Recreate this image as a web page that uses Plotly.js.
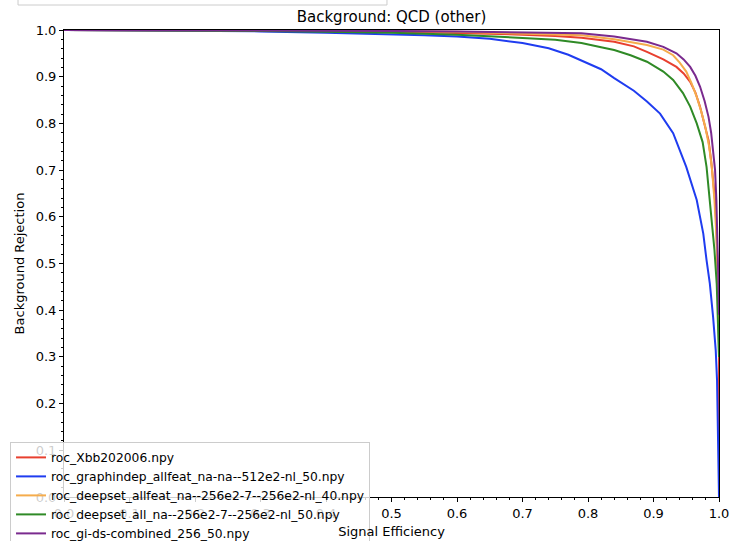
<!DOCTYPE html>
<html>
<head>
<meta charset="utf-8">
<script src="https://cdn.plot.ly/plotly-3.0.1.min.js"></script>
<style>html,body{margin:0;padding:0;background:#fff;}#chart{width:730px;height:541px;}</style>
</head>
<body>
<div id="chart"></div>
<script>
// Series names (legend order)
const names = [
  "roc_Xbb202006.npy",
  "roc_graphindep_allfeat_na-na--512e2-nl_50.npy",
  "roc_deepset_allfeat_na--256e2-7--256e2-nl_40.npy",
  "roc_deepset_all_na--256e2-7--256e2-nl_50.npy",
  "roc_gi-ds-combined_256_50.npy"
];

// Xbb (red)
const xbbX = [0, 0.1, 0.2, 0.3, 0.4, 0.5, 0.6, 0.7, 0.75, 0.79, 0.84, 0.87, 0.89, 0.915, 0.935, 0.946, 0.956, 0.964, 0.971, 0.978, 0.984, 0.988, 0.991, 0.994, 0.996, 0.998, 0.9995, 1.0, 1.0];
const xbbY = [1.0, 0.9998, 0.9995, 0.999, 0.998, 0.997, 0.994, 0.990, 0.987, 0.9835, 0.975, 0.965, 0.953, 0.937, 0.921, 0.907, 0.889, 0.866, 0.836, 0.80, 0.764, 0.72, 0.678, 0.636, 0.58, 0.50, 0.40, 0.30, 0.0];

// graphindep (blue)
const giX = [0, 0.1, 0.2, 0.3, 0.4, 0.5, 0.55, 0.6, 0.65, 0.7, 0.74, 0.77, 0.79, 0.82, 0.84, 0.87, 0.89, 0.91, 0.93, 0.95, 0.966, 0.976, 0.981, 0.986, 0.991, 0.995, 0.997, 0.9985, 0.9995, 1.0];
const giY = [1.0, 0.9995, 0.999, 0.997, 0.994, 0.991, 0.989, 0.986, 0.981, 0.972, 0.961, 0.947, 0.935, 0.916, 0.897, 0.870, 0.847, 0.821, 0.779, 0.707, 0.636, 0.564, 0.507, 0.457, 0.385, 0.314, 0.25, 0.15, 0.05, 0.0];

// deepset allfeat (orange)
const dsfX = [0, 0.1, 0.2, 0.3, 0.4, 0.5, 0.6, 0.7, 0.79, 0.84, 0.89, 0.915, 0.93, 0.94, 0.95, 0.958, 0.966, 0.973, 0.979, 0.985, 0.989, 0.993, 0.996, 0.998, 0.9995, 1.0];
const dsfY = [1.0, 0.9999, 0.9997, 0.9993, 0.9987, 0.998, 0.996, 0.993, 0.989, 0.980, 0.968, 0.958, 0.946, 0.930, 0.911, 0.886, 0.857, 0.825, 0.793, 0.750, 0.707, 0.636, 0.56, 0.48, 0.40, 0.33];

// deepset all na (green)
const dsaX = [0, 0.1, 0.2, 0.3, 0.4, 0.5, 0.6, 0.65, 0.7, 0.75, 0.79, 0.82, 0.84, 0.865, 0.89, 0.915, 0.93, 0.945, 0.956, 0.966, 0.975, 0.981, 0.986, 0.99, 0.993, 0.9965, 0.999, 1.0];
const dsaY = [1.0, 0.9997, 0.9993, 0.998, 0.996, 0.994, 0.990, 0.987, 0.983, 0.979, 0.972, 0.963, 0.957, 0.946, 0.932, 0.911, 0.893, 0.865, 0.836, 0.800, 0.760, 0.707, 0.636, 0.580, 0.530, 0.457, 0.33, 0.30];

// gi-ds combined (purple)
const cmbX = [0, 0.1, 0.2, 0.3, 0.4, 0.5, 0.6, 0.7, 0.79, 0.84, 0.89, 0.915, 0.935, 0.946, 0.956, 0.964, 0.971, 0.978, 0.984, 0.988, 0.991, 0.994, 0.996, 0.998, 0.9993, 1.0];
const cmbY = [1.0, 0.9999, 0.9998, 0.9995, 0.999, 0.998, 0.997, 0.995, 0.993, 0.986, 0.975, 0.964, 0.950, 0.937, 0.921, 0.902, 0.879, 0.848, 0.814, 0.780, 0.743, 0.70, 0.636, 0.55, 0.45, 0.39];

const colors = ["#e8402f", "#1f3cf0", "#f5ac4c", "#2f8a26", "#7a2a8e"];
const xs = [xbbX, giX, dsfX, dsaX, cmbX];
const ys = [xbbY, giY, dsfY, dsaY, cmbY];

const traces = names.map((n, i) => ({
  type: "scatter", mode: "lines", name: n,
  x: xs[i], y: ys[i],
  line: {color: colors[i], width: 2}
}));

const font = "DejaVu Sans, sans-serif";
const layout = {
  width: 730, height: 541,
  margin: {l: 64, r: 11, t: 30, b: 44, autoexpand: false},
  paper_bgcolor: "#fff", plot_bgcolor: "#fff",
  font: {family: font, size: 13, color: "#000"},
  title: {text: "Background: QCD (other)", font: {family: font, size: 15, color: "#000"},
          x: 0.5, xref: "paper", xanchor: "center", y: 1 - 17/541, yref: "container", yanchor: "middle"},
  xaxis: {
    range: [0, 1], dtick: 0.1, tickformat: ".1f",
    showgrid: false, zeroline: false,
    showline: true, mirror: true, linecolor: "#000", linewidth: 1,
    ticks: "outside", ticklen: 4, tickcolor: "#000",
    tickfont: {family: font, size: 13, color: "#000"},
    minor: {dtick: 0.02, ticks: "outside", ticklen: 2, tickcolor: "#000", showgrid: false},
    title: {text: "Signal Efficiency", font: {family: font, size: 13, color: "#000"}, standoff: 7}
  },
  yaxis: {
    range: [0, 1], dtick: 0.1, tickformat: ".1f",
    showgrid: false, zeroline: false,
    showline: true, mirror: true, linecolor: "#000", linewidth: 1,
    ticks: "outside", ticklen: 4, tickcolor: "#000",
    tickfont: {family: font, size: 13, color: "#000"},
    minor: {dtick: 0.02, ticks: "outside", ticklen: 2, tickcolor: "#000", showgrid: false},
    title: {text: "Background Rejection", font: {family: font, size: 13, color: "#000"}, standoff: 8}
  },
  legend: {
    x: -0.0824, xanchor: "left", y: 0.118, yanchor: "top",
    bgcolor: "rgba(255,255,255,0.8)", bordercolor: "#cccccc", borderwidth: 1,
    font: {family: font, size: 12.3, color: "#000"},
    tracegroupgap: 0
  },
  showlegend: true,
  shapes: [{
    type: "rect", xref: "paper", yref: "paper",
    x0: -0.0702, x1: 0.4931, y0: 1.0535, y1: 1.09,
    line: {color: "#cccccc", width: 1}, fillcolor: "#ffffff", layer: "above"
  }]
};

Plotly.newPlot("chart", traces, layout, {displayModeBar: false, staticPlot: true});
</script>
</body>
</html>
